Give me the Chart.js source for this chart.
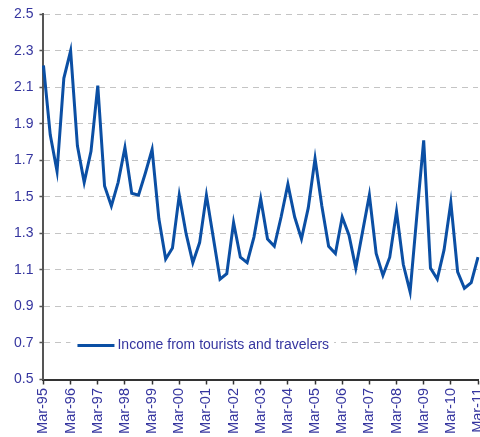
<!DOCTYPE html>
<html>
<head>
<meta charset="utf-8">
<script src="https://cdn.jsdelivr.net/npm/chart.js@4"></script>
<style>
  html, body { margin: 0; padding: 0; background: #fff; }
  #wrap { width: 480px; height: 437px; }
</style>
</head>
<body>
<div id="wrap"><canvas id="chart" width="480" height="437"></canvas></div>
<script>
// yearly tick labels shown on the axis (data is quarterly, Mar/Jun/Sep/Dec)
const yearLabels = ["95", "96", "97", "98", "99", "00", "01", "02", "03",
  "04", "05", "06", "07", "08", "09", "10", "11"];
const months = ["Mar", "Jun", "Sep", "Dec"];

// income from tourists and travelers, quarterly, Mar-95 .. Mar-11
const income = [
  2.22, 1.84, 1.64, 2.15,
  2.30, 1.78, 1.58, 1.75,
  2.11, 1.56, 1.45, 1.58,
  1.77, 1.52, 1.51, 1.63,
  1.76, 1.38, 1.16, 1.22,
  1.51, 1.30, 1.14, 1.25,
  1.51, 1.28, 1.05, 1.08,
  1.36, 1.17, 1.14, 1.28,
  1.49, 1.27, 1.23, 1.39,
  1.57, 1.39, 1.27, 1.44,
  1.71, 1.45, 1.23, 1.19,
  1.39, 1.29, 1.11, 1.31,
  1.51, 1.19, 1.07, 1.17,
  1.42, 1.13, 0.98, 1.40,
  1.81, 1.11, 1.05, 1.21,
  1.47, 1.09, 1.00, 1.03,
  1.17
];

const quarters = [];
yearLabels.forEach((yy) => {
  months.forEach((m) => {
    if (quarters.length < income.length) quarters.push(m + "-" + yy);
  });
});

const textColor = "#35359f";
const lineColor = "#0b4fa4";

// legend drawn inside the plot area, lower left, on a white box
const insideLegend = {
  id: "insideLegend",
  afterDatasetsDraw(chart) {
    const { ctx, chartArea } = chart;
    const y = chartArea.bottom - 34;
    const x0 = chartArea.left + 34;
    const label = chart.data.datasets[0].label;
    ctx.save();
    ctx.font = "14px 'Liberation Sans', Arial, sans-serif";
    const w = ctx.measureText(label).width;
    ctx.fillStyle = "#fff";
    ctx.fillRect(x0 - 7, y - 10, w + 40 + 12, 20);
    ctx.strokeStyle = lineColor;
    ctx.lineWidth = 3;
    ctx.beginPath();
    ctx.moveTo(x0, y);
    ctx.lineTo(x0 + 37, y);
    ctx.stroke();
    ctx.fillStyle = textColor;
    ctx.textBaseline = "middle";
    ctx.fillText(label, x0 + 40, y);
    ctx.restore();
  },
};

const ctx = document.getElementById("chart").getContext("2d");

let chartInstance = new Chart(ctx, {
  type: "line",
  data: {
    labels: quarters,
    datasets: [
      {
        label: "Income from tourists and travelers",
        data: income,
        borderColor: lineColor,
        borderWidth: 3,
        pointRadius: 0,
        tension: 0,
        fill: false,
      },
    ],
  },
  options: {
    responsive: false,
    animation: false,
    layout: {
      padding: { left: 8, right: 2, top: 1.5, bottom: 0 },
    },
    plugins: {
      legend: { display: false },
      tooltip: { enabled: false },
    },
    scales: {
      x: {
        offset: false,
        // let the labels run off the edges like the original
        afterFit: (scale) => {
          scale.paddingLeft = 0;
          scale.paddingRight = 0;
          scale.height = 57.5;
        },
        grid: {
          drawOnChartArea: false,
          tickLength: 5,
          tickWidth: 1.5,
          tickColor: (c) => (c.index % 4 === 0 ? "#333" : "rgba(0,0,0,0)"),
        },
        border: { color: "#333", width: 2 },
        ticks: {
          autoSkip: false,
          minRotation: 90,
          maxRotation: 90,
          padding: 3.5,
          color: textColor,
          font: { family: "'Liberation Sans', Arial, sans-serif", size: 14.5 },
          callback: function (value, index) {
            return index % 4 === 0 ? this.getLabelForValue(value) : "";
          },
        },
      },
      y: {
        min: 0.5,
        max: 2.5,
        grid: {
          color: "#c4c4c4",
          lineWidth: 1,
          tickLength: 4,
          tickColor: "#555",
          tickWidth: 1.5,
        },
        border: { color: "#555", width: 2, dash: [6, 5] },
        ticks: {
          stepSize: 0.2,
          padding: 6,
          color: textColor,
          font: { family: "'Liberation Sans', Arial, sans-serif", size: 14 },
          callback: (v) => v.toFixed(1),
        },
      },
    },
  },
  plugins: [insideLegend],
});
</script>
</body>
</html>
